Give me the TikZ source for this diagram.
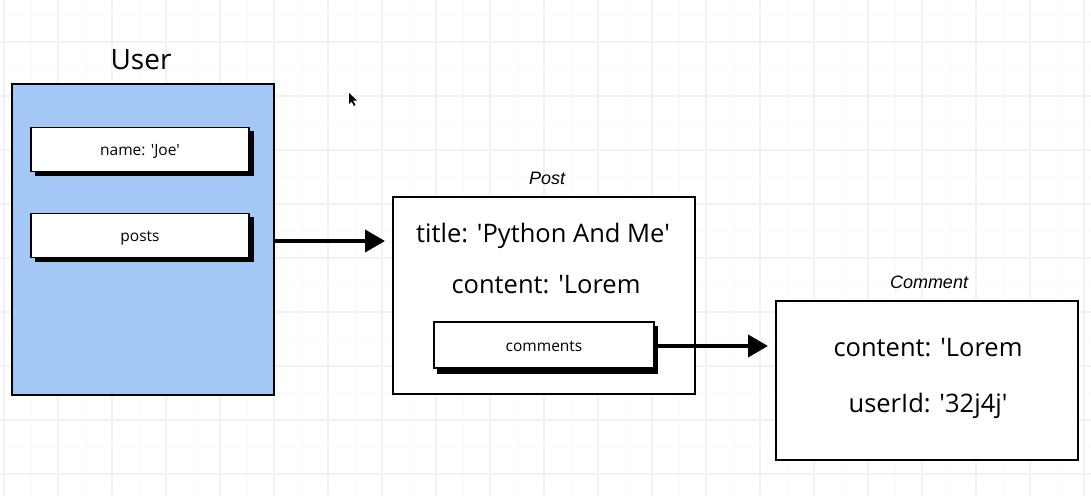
\documentclass[tikz,border=0pt]{standalone}
\usepackage{fontspec}
\setmainfont{Open Sans}[Ligatures=TeXOff]
\newfontfamily\labelfont{Liberation Sans}
\usetikzlibrary{arrows.meta}
\definecolor{userblue}{HTML}{A4C8F5}
\definecolor{gridmajor}{HTML}{F1F1F1}
\definecolor{gridminor}{HTML}{F8F8F8}
\tikzset{
  entity/.style={draw=black, line width=2.5pt, fill=white},
  fieldbox/.style={draw=black, line width=1.6pt, fill=white, minimum height=44pt,
    text height=13pt, text depth=1pt, font=\fontsize{15.5}{18}\selectfont},
  shadowbox/.style={fill=black},
  bigtext/.style={font=\fontsize{25.5}{28}\selectfont},
  caption/.style={font=\labelfont\itshape\fontsize{18}{21}\selectfont},
  linkarrow/.style={line width=4pt, -{Triangle[length=20pt,width=22pt]}},
}
\begin{document}
\begin{tikzpicture}[x=1pt,y=-1pt]
\useasboundingbox (0,0) rectangle (1091,495);
% grid
\foreach \i in {0,...,40} {
  \draw[gridminor, line width=1pt] ({-23+54*\i},0) -- ({-23+54*\i},495);
  \draw[gridmajor, line width=1.5pt] ({4+54*\i},0) -- ({4+54*\i},495);
}
\foreach \j in {0,...,10} {
  \draw[gridminor, line width=1pt] (0,{15+54*\j}) -- (1091,{15+54*\j});
  \draw[gridmajor, line width=1.5pt] (0,{42+54*\j}) -- (1091,{42+54*\j});
}
% User
\node[font=\fontsize{28}{32}\selectfont] (userlbl) at (141,60) {User};
\draw[entity, fill=userblue] (12,84) rectangle (274,395);
\coordinate (userright) at (274,241);
\fill[shadowbox] (35,131) rectangle (254,176);
\node[fieldbox, minimum width=218pt] (name) at (140,149.5) {name: 'Joe'};
\fill[shadowbox] (35,217) rectangle (254,262);
\node[fieldbox, minimum width=218pt] (posts) at (140,235.5) {posts};
% Post
\node[caption] (postlbl) at (547,178) {Post};
\draw[entity] (393,197) rectangle (695,394);
\coordinate (postleft) at (393,241);
\node[bigtext] (ptitle) at (543,236) {title: 'Python And Me'};
\node[bigtext] (pcontent) at (546,285) {content: 'Lorem};
\fill[shadowbox] (437,326) rectangle (658,374);
\node[fieldbox, minimum width=220pt, minimum height=46pt] (comments) at (544,345) {comments};
% Comment
\node[caption] (commentlbl) at (929,282) {Comment};
\draw[entity] (776,301) rectangle (1078,460);
\coordinate (commentleft) at (776,346);
\node[bigtext] (ccontent) at (928,348) {content: 'Lorem};
\node[bigtext] (cuser) at (928,406) {userId: '32j4j'};
% arrows
\draw[linkarrow] (userright) -- ([xshift=-8pt]postleft);
\draw[linkarrow] ([xshift=2pt]comments.east |- commentleft) -- ([xshift=-8pt]commentleft);
% cursor
\fill[black] (349,93) -- (349,104) -- (351.5,101.5) -- (354,106) -- (355.5,105) -- (353,100.5) -- (357,100.5) -- cycle;
\end{tikzpicture}
\end{document}
